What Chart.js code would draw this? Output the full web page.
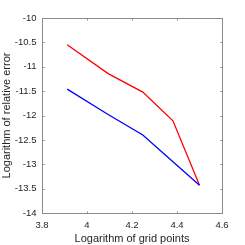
<!DOCTYPE html>
<html>
<head>
<meta charset="utf-8">
<script src="https://cdn.jsdelivr.net/npm/chart.js@4.4.1/dist/chart.umd.min.js"></script>
<style>
  html, body { margin: 0; padding: 0; background: #fff; }
  #wrap { width: 245px; height: 245px; }
</style>
</head>
<body>
<div id="wrap"><canvas id="c" width="245" height="245"></canvas></div>
<script>
// x = ln(grid points), y = log of relative error
const gridLogs = [3.912, 4.094, 4.248, 4.382, 4.500];
const errRed = [-10.55, -11.14, -11.52, -12.11, -13.43];
const errBlue = [-11.46, -11.98, -12.40, -12.95, -13.43];
const xTicks = [3.8, 4.0, 4.2, 4.4, 4.6];
const yTicks = [-14, -13.5, -13, -12.5, -12, -11.5, -11, -10.5, -10];

const AXIS = '#262626';
const FONT = 'Liberation Sans, Helvetica, Arial, sans-serif';

const toPts = ys => gridLogs.map((x, i) => ({ x, y: ys[i] }));
const fmt = v => String(Math.round(v * 10) / 10);

// box around the plot with inward ticks on all four sides
const boxTicks = {
  id: 'boxTicks',
  afterDraw(chart) {
    const { ctx, chartArea: a, scales } = chart;
    const L = Math.round(a.left) + 0.5, R = Math.round(a.right) + 0.5;
    const T = Math.round(a.top) + 0.5, B = Math.round(a.bottom) + 0.5;
    ctx.save();
    ctx.strokeStyle = '#8a8a8a';
    ctx.lineWidth = 1;
    ctx.strokeRect(L, T, R - L, B - T);
    ctx.beginPath();
    const len = 2;
    xTicks.forEach(v => {
      const px = Math.round(scales.x.getPixelForValue(v)) + 0.5;
      ctx.moveTo(px, B); ctx.lineTo(px, B - len);
      ctx.moveTo(px, T); ctx.lineTo(px, T + len);
    });
    yTicks.forEach(v => {
      const py = Math.round(scales.y.getPixelForValue(v)) + 0.5;
      ctx.moveTo(L, py); ctx.lineTo(L + len, py);
      ctx.moveTo(R, py); ctx.lineTo(R - len, py);
    });
    ctx.stroke();
    ctx.restore();
  }
};

new Chart(document.getElementById('c').getContext('2d'), {
  type: 'line',
  data: {
    datasets: [
      { label: 'blue', data: toPts(errBlue), borderColor: '#0000ff', backgroundColor: '#0000ff',
        borderWidth: 1.3, pointRadius: 0, tension: 0 },
      { label: 'red', data: toPts(errRed), borderColor: '#ff0000', backgroundColor: '#ff0000',
        borderWidth: 1.3, pointRadius: 0, tension: 0 }
    ]
  },
  options: {
    responsive: false,
    animation: false,
    layout: { padding: { top: 18, right: 23, left: 0, bottom: 0 } },
    plugins: { legend: { display: false }, tooltip: { enabled: false } },
    scales: {
      x: {
        type: 'linear', min: 3.8, max: 4.6,
        afterBuildTicks: s => { s.ticks = xTicks.map(v => ({ value: v })); },
        afterFit: s => { s.height = 32; },
        grid: { display: false, drawTicks: false, tickLength: 0 },
        border: { display: false },
        ticks: { color: AXIS, font: { family: FONT, size: 9.5 }, padding: 6.5, maxRotation: 0,
                 callback: v => fmt(v) },
        title: { display: true, text: 'Logarithm of grid points', color: AXIS,
                 font: { family: FONT, size: 11 }, padding: { top: 0, bottom: -1 } }
      },
      y: {
        type: 'linear', min: -14, max: -10,
        afterBuildTicks: s => { s.ticks = yTicks.map(v => ({ value: v })); },
        afterFit: s => { s.width = 42; },
        grid: { display: false, drawTicks: false, tickLength: 0 },
        border: { display: false },
        ticks: { color: AXIS, font: { family: FONT, size: 9.5 }, padding: 5.5,
                 callback: v => fmt(v) },
        title: { display: true, text: 'Logarithm of relative error', color: AXIS,
                 font: { family: FONT, size: 11 }, padding: { top: 0, bottom: 0 } }
      }
    }
  },
  plugins: [boxTicks]
});
</script>
</body>
</html>
